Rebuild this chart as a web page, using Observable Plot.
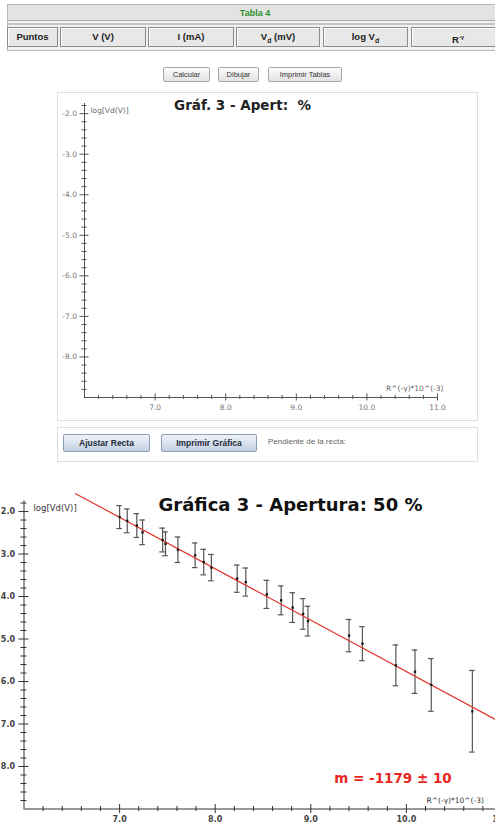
<!DOCTYPE html>
<html><head><meta charset="utf-8">
<script src="https://cdn.jsdelivr.net/npm/d3@7"></script>
<script src="https://cdn.jsdelivr.net/npm/@observablehq/plot@0.6"></script>
<style>
body{margin:0;background:#fff;font-family:"Liberation Sans",Arial,sans-serif;}
#page{position:relative;width:495px;height:825px;overflow:hidden;background:#fff;}
.abs{position:absolute;box-sizing:border-box;}
.cell{position:absolute;box-sizing:border-box;top:27px;height:20px;background:#e8e8e8;border:1px solid #8c8c8c;box-shadow:inset 1px 1px 0 #fff;font-weight:bold;font-size:9.5px;color:#222;text-align:center;line-height:18px;}
.btn{position:absolute;box-sizing:border-box;top:67px;height:15px;background:linear-gradient(#fdfdfd,#e2e2e2);border:1px solid #a8a8a8;border-radius:2px;font-size:7.5px;color:#333;text-align:center;line-height:13px;}
.btn2{position:absolute;box-sizing:border-box;top:434px;height:18px;background:linear-gradient(#eef3f9,#c3d1e3);border:1px solid #8a9db8;border-radius:2px;font-size:8.5px;font-weight:bold;color:#1f2a3a;text-align:center;line-height:16px;}
.plotwrap{position:absolute;}
.plotwrap svg{overflow:visible;max-width:none !important;display:block;}
</style></head><body><div id="page">
<div class="abs" style="left:7px;top:4px;width:495px;height:47px;background:#f1f1f1;border:1px solid #b5b5b5;"></div>
<div class="abs" id="tabTitle" style="left:8px;top:5px;width:494px;height:16px;background:#e3e3e3;border-bottom:1px solid #a9a9a9;color:#2f8f2f;font-weight:bold;font-size:9px;text-align:center;line-height:16px;"></div>
<div class="abs" style="left:8px;top:23px;width:494px;height:2px;border-top:1px solid #c4c4c4;border-bottom:1px solid #c4c4c4;"></div>
<div id="cells"></div>
<div id="topBtns"></div>
<div class="abs" style="left:57px;top:92px;width:421px;height:329px;border:1px solid #dedede;"></div>
<div class="abs" style="left:57px;top:427px;width:421px;height:35px;border:1px solid #dedede;"></div>
<div id="botBtns"></div>
<div class="abs" id="slopeLabel" style="left:268px;top:437px;font-size:8px;color:#666;"></div>
<div class="plotwrap" id="p1" style="left:58px;top:93px;width:420px;height:327px;"></div>
<div class="plotwrap" id="p2" style="left:0px;top:488px;width:530px;height:337px;"></div>
</div>
<script>
// ---- texts ----
const tableTitle = "Tabla 4";
const tableHeaders = ["Puntos", "V (V)", "I (mA)", "V<sub style='font-size:7px'>d</sub> (mV)", "log V<sub style='font-size:7px'>d</sub>", "R<sup style='font-size:6px'>-γ</sup>"];
const topButtons = ["Calcular", "Dibujar", "Imprimir Tablas"];
const bottomButtons = ["Ajustar Recta", "Imprimir Gráfica"];
const slopeText = "Pendiente de la recta:";
const emptyTitle = "Gráf. 3 - Apert:  %";
const fullTitle = "Gráfica 3 - Apertura: 50 %";
const yLabel = "log[Vd(V)]";
const xLabel = "R^(-γ)*10^(-3)";
const slopeResult = "m = -1179 ± 10";

// ---- axes ----
const xDomain = [6, 11];
const yDomain = [-9, -1.75];
const xTickValues = [7, 8, 9, 10, 11];
const yTickValues = [-2, -3, -4, -5, -6, -7, -8];

// ---- data (Gráfica 3, apertura 50 %) ----
const rGamma = [7.00, 7.08, 7.18, 7.24, 7.45, 7.48, 7.61, 7.79, 7.88, 7.96, 8.23, 8.32, 8.54, 8.69, 8.81, 8.92, 8.97, 9.40, 9.54, 9.89, 10.09, 10.26, 10.69];
const logVd = [-2.13, -2.22, -2.33, -2.49, -2.67, -2.76, -2.90, -3.03, -3.19, -3.32, -3.58, -3.66, -3.95, -4.09, -4.26, -4.41, -4.58, -4.92, -5.11, -5.62, -5.77, -6.08, -6.70];
const errLogVd = [0.27, 0.28, 0.28, 0.29, 0.28, 0.28, 0.30, 0.29, 0.30, 0.31, 0.32, 0.33, 0.33, 0.34, 0.35, 0.36, 0.35, 0.38, 0.40, 0.48, 0.51, 0.62, 0.96];
const fitX = [6.54, 11.2];
const fitY = [-1.58, -7.22];

// ---- HTML parts ----
document.getElementById("tabTitle").textContent = tableTitle;
const cellX = [[7,58],[60,146],[148,234],[236,320],[323,408],[411,505]];
document.getElementById("cells").innerHTML = tableHeaders.map((h,i)=>
  `<div class="cell" style="left:${cellX[i][0]}px;width:${cellX[i][1]-cellX[i][0]}px">${h}</div>`).join("");
const tbX = [[163,210],[218,259],[268,342]];
document.getElementById("topBtns").innerHTML = topButtons.map((b,i)=>
  `<div class="btn" style="left:${tbX[i][0]}px;width:${tbX[i][1]-tbX[i][0]}px">${b}</div>`).join("");
const bbX = [[63,150],[161,257]];
document.getElementById("botBtns").innerHTML = bottomButtons.map((b,i)=>
  `<div class="btn2" style="left:${bbX[i][0]}px;width:${bbX[i][1]-bbX[i][0]}px">${b}</div>`).join("");
document.getElementById("slopeLabel").textContent = slopeText;

// ---- tick positions ----
const xAll = d3.range(30, 56).map(i => i / 5);
const xMinor = xAll.filter(v => Math.abs(v - Math.round(v)) > 1e-6);
const xMajor = xAll.filter(v => Math.abs(v - Math.round(v)) < 1e-6 && v > xDomain[0]);
const yAll = d3.range(-45, -8).map(i => i / 5);
const yMinor = yAll.filter(v => Math.abs(v - Math.round(v)) > 1e-6);
const yMajor = yTickValues;

function axisMarks(o) {
  const x0 = xDomain[0], y0 = yDomain[0];
  return [
    Plot.ruleX([x0], {stroke: o.axisColor, strokeWidth: 1}),
    Plot.ruleY([y0], {stroke: o.axisColor, strokeWidth: 1}),
    Plot.ruleY(yMajor, {y: d => d, x1: x0, x2: x0, insetLeft: -o.majY, insetRight: -o.majY, stroke: o.axisColor}),
    Plot.ruleY(yMinor, {y: d => d, x1: x0, x2: x0, insetLeft: -o.minY, insetRight: -o.minY, stroke: o.axisColor}),
    Plot.ruleX(xMajor, {x: d => d, y1: y0, y2: y0, insetTop: -o.majX, insetBottom: -o.majX, stroke: o.axisColor}),
    Plot.ruleX(xMinor, {x: d => d, y1: y0, y2: y0, insetTop: -o.minX, insetBottom: -o.minX, stroke: o.axisColor}),
    Plot.axisX(xTickValues, {label: null, tickSize: 0, tickPadding: o.padX, tickFormat: d => d.toFixed(1), fontSize: o.font, fontWeight: o.weight, fill: o.labelColor}),
    Plot.axisY(yTickValues, {label: null, tickSize: 0, tickPadding: o.padY, tickFormat: o.yFormat, fontSize: o.font, fontWeight: o.weight, fill: o.labelColor})
  ];
}

// ---- empty chart ----
const p1 = Plot.plot({
  width: 420, height: 327,
  marginLeft: 26, marginRight: 41, marginTop: 10, marginBottom: 23,
  x: {domain: xDomain, axis: null}, y: {domain: yDomain, axis: null},
  style: {background: "transparent", maxWidth: "none", fontFamily: "DejaVu Sans, sans-serif"},
  marks: [
    ...axisMarks({axisColor: "#555", majY: 4.5, minY: 2.5, majX: 3.5, minX: 2, padX: 7, padY: 7.5, font: 7.5, weight: "normal", labelColor: "#777", yFormat: d => d.toFixed(1)}),
    Plot.text([emptyTitle], {frameAnchor: "top-left", dx: 158, dy: 2, text: d => d, textAnchor: "middle", lineAnchor: "middle", fontSize: 13.5, fontWeight: "bold", fill: "#222"}),
    Plot.text([yLabel], {frameAnchor: "top-left", dx: 6, dy: 7, text: d => d, textAnchor: "start", lineAnchor: "middle", fontSize: 7.5, fill: "#666"}),
    Plot.text([xLabel], {frameAnchor: "bottom-right", dx: 6, dy: -9, text: d => d, textAnchor: "end", lineAnchor: "middle", fontSize: 7.5, fill: "#666"})
  ]
});
document.getElementById("p1").appendChild(p1);

// ---- data chart (its left edge, with the minus signs, is cropped in the reference) ----
const pts = rGamma.map((x, i) => ({x, y: logVd[i], e: errLogVd[i]}));
const fit = fitX.map((x, i) => ({x, y: fitY[i]}));
const p2 = Plot.plot({
  width: 530, height: 337,
  marginLeft: 23.5, marginRight: 28.5, marginTop: 12.4, marginBottom: 16.5,
  x: {domain: xDomain, axis: null}, y: {domain: yDomain, axis: null},
  style: {background: "transparent", maxWidth: "none", fontFamily: "DejaVu Sans, sans-serif"},
  marks: [
    ...axisMarks({axisColor: "#333", majY: 5, minY: 3, majX: 4.5, minX: 2.5, padX: 7, padY: 9, font: 8, weight: "bold", labelColor: "#444", yFormat: d => Math.abs(d).toFixed(1)}),
    Plot.ruleX(pts, {x: "x", y1: d => d.y - d.e, y2: d => d.y + d.e, stroke: "#555", strokeWidth: 1.2}),
    Plot.ruleY(pts, {y: d => d.y + d.e, x1: "x", x2: "x", insetLeft: -2.8, insetRight: -2.8, stroke: "#555", strokeWidth: 1.2}),
    Plot.ruleY(pts, {y: d => d.y - d.e, x1: "x", x2: "x", insetLeft: -2.8, insetRight: -2.8, stroke: "#555", strokeWidth: 1.2}),
    Plot.line(fit, {x: "x", y: "y", stroke: "#e0352b", strokeWidth: 1.2}),
    Plot.dot(pts, {x: "x", y: "y", symbol: "square", r: 1.3, fill: "#111", stroke: "none"}),
    Plot.text([fullTitle], {frameAnchor: "top-left", dx: 266.5, dy: 4.6, text: d => d, textAnchor: "middle", lineAnchor: "middle", fontSize: 18, fontWeight: "bold", fill: "#111"}),
    Plot.text([yLabel], {frameAnchor: "top-left", dx: 9.5, dy: 7.6, text: d => d, textAnchor: "start", lineAnchor: "middle", fontSize: 8.5, fill: "#333"}),
    Plot.text([xLabel], {frameAnchor: "bottom-left", dx: 402.5, dy: -8.5, text: d => d, textAnchor: "start", lineAnchor: "middle", fontSize: 7.5, fill: "#333"}),
    Plot.text([slopeResult], {frameAnchor: "top-left", dx: 369, dy: 277.6, text: d => d, textAnchor: "middle", lineAnchor: "middle", fontSize: 13.5, fontWeight: "bold", fill: "#e8281e"})
  ]
});
document.getElementById("p2").appendChild(p2);
</script>
</body></html>
